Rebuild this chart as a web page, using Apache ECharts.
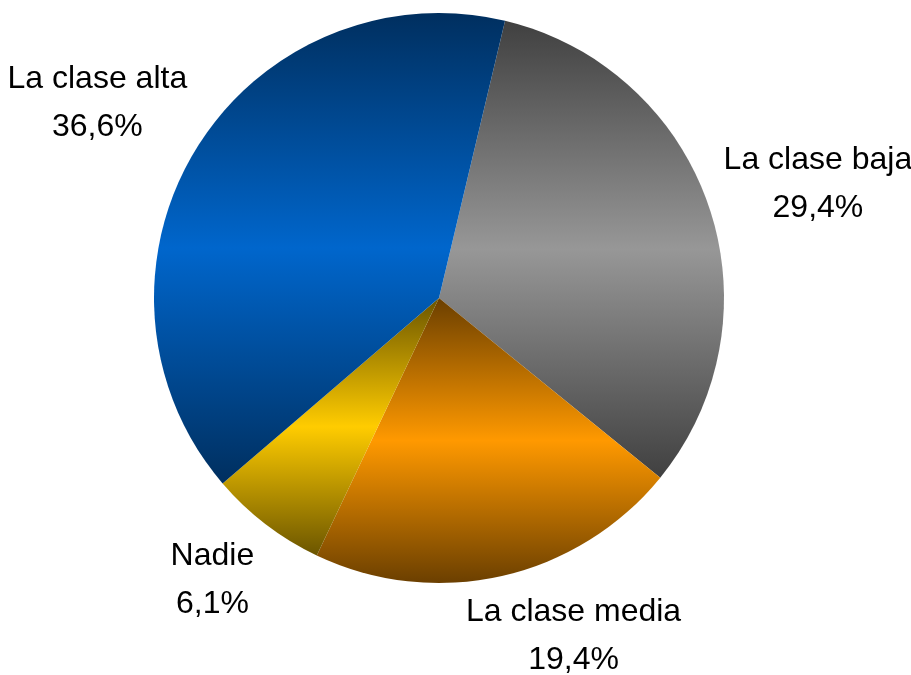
<!DOCTYPE html>
<html>
<head>
<meta charset="utf-8">
<script src="https://cdn.jsdelivr.net/npm/echarts@6/dist/echarts.min.js"></script>
<style>
  html, body { margin: 0; padding: 0; background: #fff; }
  #chart { width: 911px; height: 675px; }
</style>
</head>
<body>
<div id="chart"></div>
<script>
// datos
const categories = ['La clase baja', 'La clase media', 'Nadie', 'La clase alta']
const values = [29.4, 19.4, 6.1, 36.6]

// colores: borde oscuro, centro claro
const darkColors = ['#404040', '#6b3f00', '#6b5500', '#002f5f']
const lightColors = ['#979797', '#ff9900', '#ffcc00', '#0066cc']
// ajuste fino de etiquetas
const labelOffsets = [[21, 8], [51, -30], [3, -18], [-19, 2]]

let myChart = echarts.init(document.getElementById('chart'))

let center = [439, 298]
let startAngle = 76.6

myChart.setOption({
  animation: false,
  series: [
    {
      type: 'pie',
      center: center,
      radius: [0, 285],
      startAngle: startAngle,
      clockwise: true,
      silent: true,
      label: { show: false },
      labelLine: { show: false },
      data: categories.map((name, i) => ({
        name: name,
        value: values[i],
        itemStyle: {
          color: {
            type: 'linear', x: 0, y: 0, x2: 0, y2: 1,
            colorStops: [
              { offset: 0, color: darkColors[i] },
              { offset: 0.5, color: lightColors[i] },
              { offset: 1, color: darkColors[i] }
            ]
          }
        }
      }))
    },
    {
      // serie fantasma solo para las etiquetas
      type: 'pie',
      center: center,
      radius: [285, 465],
      startAngle: startAngle,
      clockwise: true,
      silent: true,
      itemStyle: { color: 'rgba(0,0,0,0)' },
      labelLine: { show: false },
      label: {
        show: true,
        position: 'inside',
        color: '#000',
        fontFamily: '"Liberation Sans", Arial, sans-serif',
        fontSize: 32,
        lineHeight: 48,
        align: 'center',
        formatter: (p) => p.name + '\n' + values[p.dataIndex].toFixed(1).replace('.', ',') + '%'
      },
      data: categories.map((name, i) => ({
        name: name,
        value: values[i],
        label: { offset: labelOffsets[i] }
      }))
    }
  ]
})
</script>
</body>
</html>
